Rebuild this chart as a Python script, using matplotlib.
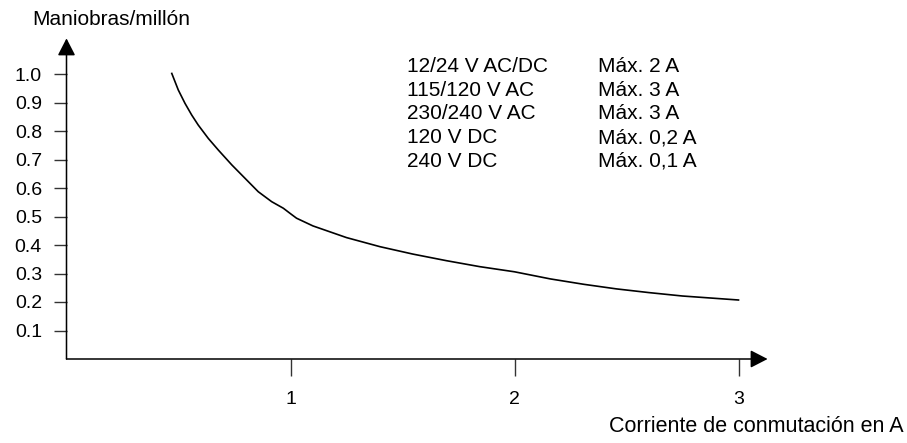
"""Switching life curve: operations (millions) vs switching current."""

import matplotlib

matplotlib.use("Agg")
import matplotlib.pyplot as plt

plt.rcParams["font.family"] = ["Liberation Sans", "DejaVu Sans"]

# values
current_a = [0.470, 0.499, 0.529, 0.559, 0.588, 0.633, 0.678, 0.738, 0.797, 0.856,
             0.916, 0.968, 0.998, 1.027, 1.10, 1.25, 1.40, 1.547, 1.696, 1.845,
             2.0, 2.16, 2.31, 2.455, 2.60, 2.75, 3.0]
operations_m = [1.002, 0.944, 0.897, 0.856, 0.821, 0.774, 0.733, 0.681, 0.634, 0.587,
                0.552, 0.529, 0.511, 0.494, 0.467, 0.426, 0.394, 0.368, 0.345, 0.324,
                0.306, 0.281, 0.262, 0.246, 0.233, 0.221, 0.207]

y_ticks = [0.1, 0.2, 0.3, 0.4, 0.5, 0.6, 0.7, 0.8, 0.9, 1.0]
y_tick_labels = ["0.1", "0.2", "0.3", "0.4", "0.5", "0.6", "0.7", "0.8", "0.9", "1.0"]
x_ticks = [1, 2, 3]
x_tick_labels = ["1", "2", "3"]

rating_voltages = ["12/24 V AC/DC", "115/120 V AC", "230/240 V AC", "120 V DC", "240 V DC"]
rating_currents = ["Máx. 2 A", "Máx. 3 A", "Máx. 3 A", "Máx. 0,2 A", "Máx. 0,1 A"]

W, H = 907, 443
fig = plt.figure(figsize=(W / 100, H / 100), dpi=100)

# axes placed so that data (0, 0) sits on the drawn axis corner
x0_px, x_scale = 66.5, 224.0
y0_px, y_scale = 359.0, 285.0
xmax, ymax = 3.3, 1.2
ax = fig.add_axes([x0_px / W, (H - y0_px) / H, xmax * x_scale / W, ymax * y_scale / H])
ax.set_xlim(0, xmax)
ax.set_ylim(0, ymax)
for spine in ax.spines.values():
    spine.set_visible(False)

ax.plot(current_a, operations_m, color="black", linewidth=1.2, clip_on=False)

# axis lines with filled arrow heads
arrow = dict(arrowstyle="-|>,head_length=10.5,head_width=5.4", mutation_scale=1,
             color="black", linewidth=1.1, shrinkA=0, shrinkB=0)
ax.annotate("", xy=(3.13, 0), xytext=(0, 0), arrowprops=arrow, annotation_clip=False)
ax.annotate("", xy=(0, 1.125), xytext=(0, 0), arrowprops=arrow, annotation_clip=False)

ax.set_xticks(x_ticks, x_tick_labels)
ax.set_yticks(y_ticks, y_tick_labels)
ax.tick_params(axis="x", direction="out", length=12.5, width=1.0, pad=10.5,
               labelsize=14, color="#333333")
ax.tick_params(axis="y", direction="out", length=9.2, width=1.0, pad=8.5,
               labelsize=14, color="#333333")

fig.text(32 / W, 1 - 25 / H, "Maniobras/millón", fontsize=15, va="baseline", ha="left")
fig.text(756 / W, 1 - 432 / H, "Corriente de conmutación en A", fontsize=15.5,
         va="baseline", ha="center")

row_step = 23.8
for i, (volt, amp) in enumerate(zip(rating_voltages, rating_currents)):
    base = 1 - (71.7 + i * row_step) / H
    fig.text(406.7 / W, base, volt, fontsize=15, va="baseline", ha="left")
    fig.text(598 / W, base, amp, fontsize=15, va="baseline", ha="left")

fig.savefig("out.png", dpi=100)
